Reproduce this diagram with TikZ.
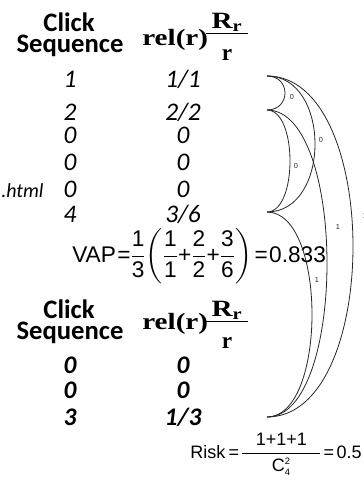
\documentclass[tikz,border=0pt]{standalone}
\usepackage{fontspec}
\usepackage{amsmath}
\usepackage{graphicx}
\newfontfamily\calib{Carlito}
\newfontfamily\arialf{Liberation Sans}
\newfontfamily\timesf{Liberation Serif}
\newcommand{\tf}[2]{{\dfrac{\hbox{#1}}{\hbox{#2}}}}
\newcommand{\relr}{\scalebox{1.25}[1]{rel(r)}}
\newcommand{\Rfrac}{$\frac{\hbox{\hspace{4pt}\scalebox{1.25}[1]{R\textsubscript{r}}\hspace{4pt}}}{\hbox{\raisebox{-10pt}{r}}}$}
\nulldelimiterspace=0pt

\begin{document}
\begin{tikzpicture}[x=0.75pt, y=-0.75pt,
        every node/.style={inner sep=0pt},
        head/.style={font=\calib\bfseries\fontsize{20}{22}\selectfont, anchor=base},
        relf/.style={font=\timesf\bfseries\fontsize{17.5}{20}\selectfont},
        val/.style={font=\calib\itshape\fontsize{19}{21}\selectfont, anchor=base},
        valb/.style={font=\calib\bfseries\itshape\fontsize{19}{21}\selectfont, anchor=base},
        eqn/.style={font=\arialf\fontsize{17}{20}\selectfont},
        riskf/.style={font=\arialf\fontsize{13.5}{16}\selectfont},
        lbl/.style={font=\arialf\fontsize{5.5}{6}\selectfont},
        arc/.style={line width=0.6pt, black!85}]
        \useasboundingbox (0,0) rectangle (364,482);
        % first click list
        \node[head] (click1) at (69,31) {Click};
        \node[head] (seq1) at (70,52) {Sequence};
        \node[relf, anchor=base west] (rel1) at (142,45) {\relr};
        \node[relf, anchor=base] (frac1) at (227,39) {\Rfrac};
        \node[val] (s1) at (70,87) {1};   \node[val] (v1) at (183,87) {1/1};
        \node[val] (s2) at (70,120) {2};  \node[val] (v2) at (183,120) {2/2};
        \node[val] (s3) at (70,143) {0};  \node[val] (v3) at (183,143) {0};
        \node[val] (s4) at (70,170) {0};  \node[val] (v4) at (183,170) {0};
        \node[val] (s5) at (70,197) {0};  \node[val] (v5) at (183,197) {0};
        \node[val] (s6) at (70,222) {4};  \node[val] (v6) at (183,222) {3/6};
        \node[val, font=\calib\itshape\fontsize{15}{17}\selectfont, anchor=base west] (url) at (1,197) {.html};
        \node[eqn, anchor=base west] (vap) at (72,262)
            {VAP\kern1pt=\kern1pt$\tf{1}{3}\kern1pt{\left(\kern1pt\tf{1}{1}\kern1pt\hbox{+}\kern1pt\tf{2}{2}\kern1pt\hbox{+}\kern1pt\tf{3}{6}\kern1pt\right)}$\kern2pt=\kern1pt0.833};
        % second click list
        \node[head] (click2) at (69,318) {Click};
        \node[head] (seq2) at (70,339) {Sequence};
        \node[relf, anchor=base west] (rel2) at (142,329) {\relr};
        \node[relf, anchor=base] (frac2) at (227,327) {\Rfrac};
        \node[valb] (t1) at (70,373) {0};  \node[valb] (w1) at (183,373) {0};
        \node[valb] (t2) at (70,398) {0};  \node[valb] (w2) at (183,398) {0};
        \node[valb] (t3) at (70,425) {3};  \node[valb] (w3) at (183,425) {1/3};
        \node[riskf, anchor=base east] (risk) at (362,458)
            {Risk\kern2.5pt=\kern2.5pt$\dfrac{\hbox{\hspace{10pt}1+1+1\hspace{10pt}}}{\hbox{C$_{\hbox{\scriptsize 4}}^{\hbox{\scriptsize 2}}$}}$\kern2.5pt=\kern2pt0.5};
        % pairs of relevant clicks
        \coordinate (e1) at (267,76);
        \coordinate (e2) at (267,110);
        \coordinate (e3) at (267,212);
        \coordinate (e4) at (267,417);
        \draw[arc] (e1) to[out=0, in=0, distance=18pt] node[lbl, pos=0.58, xshift=5.6pt] {0} (e2);
        \draw[arc] (e1) to[out=0, in=0, distance=48pt] node[lbl, pos=0.48, xshift=4.5pt] {0} (e3);
        \draw[arc] (e2) to[out=0, in=0, distance=23pt] node[lbl, pos=0.53, xshift=4.5pt] {0} (e3);
        \draw[arc] (e3) to[out=0, in=0, distance=45pt] node[lbl, pos=0.385, xshift=5.5pt] {1} (e4);
        \draw[arc] (e2) to[out=0, in=0, distance=60pt] node[lbl, pos=0.42, xshift=9.4pt] {1} (e4);
        \draw[arc] (e1) to[out=0, in=0, distance=86pt] node[lbl, pos=0.44, xshift=9.8pt] {1} (e4);
    \end{tikzpicture}
\end{document}
